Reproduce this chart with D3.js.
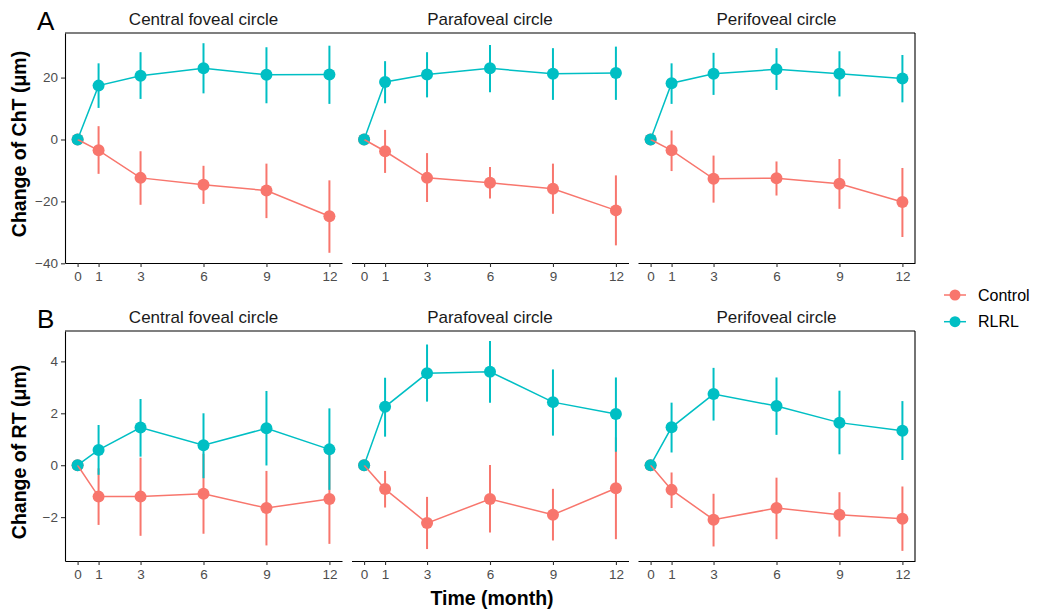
<!DOCTYPE html>
<html>
<head>
<meta charset="utf-8">
<script src="https://cdn.jsdelivr.net/npm/d3@7"></script>
<style>
  body { margin: 0; background: #fff; }
  svg { display: block; font-family: "Liberation Sans", Arial, Helvetica, sans-serif; }
</style>
</head>
<body>
<svg id="chart" width="1039" height="612"></svg>
<script>
// ---------- data ----------
const months = [0, 1, 3, 6, 9, 12];
const monthTicks = [0, 1, 3, 6, 9, 12];
const regions = ["Central foveal circle", "Parafoveal circle", "Perifoveal circle"];
const groups = ["Control", "RLRL"];
const groupColors = ["#F8766D", "#00BFC4"];

const chtTicks = [-40, -20, 0, 20];
const rtTicks = [-2, 0, 2, 4];
const chtDomain = [-39.9, 34.4];
const rtDomain = [-3.69, 5.17];

// ChT – Central foveal
const chtCentralControl   = [0, -3.5, -12.4, -14.6, -16.5, -24.8];
const chtCentralControlLo = [0, -11.1, -21.1, -20.8, -25.4, -36.6];
const chtCentralControlHi = [0, 4.3, -3.8, -8.5, -7.8, -13.2];
const chtCentralRlrl      = [0, 17.4, 20.6, 23.0, 20.9, 21.0];
const chtCentralRlrlLo    = [0, 10.2, 13.1, 14.9, 11.7, 11.5];
const chtCentralRlrlHi    = [0, 24.6, 28.2, 31.1, 29.8, 30.3];
// ChT – Parafoveal
const chtParaControl   = [0, -3.8, -12.4, -14.0, -15.9, -22.9];
const chtParaControlLo = [0, -10.8, -20.2, -19.1, -24.0, -34.2];
const chtParaControlHi = [0, 3.1, -4.4, -8.9, -7.8, -11.6];
const chtParaRlrl      = [0, 18.6, 21.0, 23.0, 21.2, 21.5];
const chtParaRlrlLo    = [0, 11.7, 13.6, 15.3, 12.8, 12.8];
const chtParaRlrlHi    = [0, 25.3, 28.2, 30.5, 29.5, 30.0];
// ChT – Perifoveal
const chtPeriControl   = [0, -3.5, -12.7, -12.5, -14.3, -20.2];
const chtPeriControlLo = [0, -10.2, -20.4, -18.1, -22.4, -31.5];
const chtPeriControlHi = [0, 2.9, -5.2, -7.1, -6.3, -9.2];
const chtPeriRlrl      = [0, 18.2, 21.2, 22.7, 21.2, 19.7];
const chtPeriRlrlLo    = [0, 11.5, 14.4, 16.0, 13.9, 12.0];
const chtPeriRlrlHi    = [0, 24.6, 28.0, 29.5, 28.5, 27.3];

// RT – Central foveal
const rtCentralControl   = [0, -1.21, -1.21, -1.10, -1.65, -1.30];
const rtCentralControlLo = [0, -2.30, -2.72, -2.64, -3.09, -3.03];
const rtCentralControlHi = [0, -0.12, 0.29, 0.44, -0.22, 0.43];
const rtCentralRlrl      = [0, 0.59, 1.45, 0.77, 1.42, 0.61];
const rtCentralRlrlLo    = [0, -0.37, 0.33, -0.50, -0.01, -0.95];
const rtCentralRlrlHi    = [0, 1.55, 2.55, 2.00, 2.86, 2.19];
// RT – Parafoveal
const rtParaControl   = [0, -0.92, -2.23, -1.30, -1.91, -0.89];
const rtParaControlLo = [0, -1.63, -3.23, -2.59, -2.90, -2.85];
const rtParaControlHi = [0, -0.22, -1.22, 0.01, -0.91, 1.07];
const rtParaRlrl      = [0, 2.25, 3.54, 3.60, 2.43, 1.97];
const rtParaRlrlLo    = [0, 1.10, 2.45, 2.41, 1.14, 0.52];
const rtParaRlrlHi    = [0, 3.37, 4.65, 4.78, 3.69, 3.38];
// RT – Perifoveal
const rtPeriControl   = [0, -0.95, -2.10, -1.65, -1.91, -2.06];
const rtPeriControlLo = [0, -1.65, -3.13, -2.85, -2.75, -3.30];
const rtPeriControlHi = [0, -0.28, -1.10, -0.48, -1.04, -0.82];
const rtPeriRlrl      = [0, 1.46, 2.74, 2.28, 1.64, 1.33];
const rtPeriRlrlLo    = [0, 0.49, 1.72, 1.17, 0.42, 0.20];
const rtPeriRlrlHi    = [0, 2.41, 3.75, 3.38, 2.87, 2.47];

// ---------- assemble ----------
function series(mean, lo, hi) {
  return months.map((m, i) => ({ month: m, mean: mean[i], lo: lo[i], hi: hi[i] }));
}
const rows = [
  {
    tag: "A", title: "Change of ChT (\u03bcm)", ticks: chtTicks, domain: chtDomain,
    top: 33, bottom: 263, tagY: 29.5, titleY: 25, yTitleY: 144,
    panels: [
      [series(chtCentralControl, chtCentralControlLo, chtCentralControlHi), series(chtCentralRlrl, chtCentralRlrlLo, chtCentralRlrlHi)],
      [series(chtParaControl, chtParaControlLo, chtParaControlHi), series(chtParaRlrl, chtParaRlrlLo, chtParaRlrlHi)],
      [series(chtPeriControl, chtPeriControlLo, chtPeriControlHi), series(chtPeriRlrl, chtPeriRlrlLo, chtPeriRlrlHi)]
    ]
  },
  {
    tag: "B", title: "Change of RT (\u03bcm)", ticks: rtTicks, domain: rtDomain,
    top: 331, bottom: 561, tagY: 328, titleY: 323, yTitleY: 452,
    panels: [
      [series(rtCentralControl, rtCentralControlLo, rtCentralControlHi), series(rtCentralRlrl, rtCentralRlrlLo, rtCentralRlrlHi)],
      [series(rtParaControl, rtParaControlLo, rtParaControlHi), series(rtParaRlrl, rtParaRlrlLo, rtParaRlrlHi)],
      [series(rtPeriControl, rtPeriControlLo, rtPeriControlHi), series(rtPeriRlrl, rtPeriRlrlLo, rtPeriRlrlHi)]
    ]
  }
];

// ---------- layout ----------
const svg = d3.select("#chart");
const L = 65, R = 915, gap = 9.5;
const pw = (R - L - 2 * gap) / 3;
const xDomain = [-0.6, 12.6];
const ptR = 6;

rows.forEach(row => {
  const y = d3.scaleLinear().domain(row.domain).range([row.bottom, row.top]);

  // tag letter
  svg.append("text").attr("x", 37).attr("y", row.tagY)
    .attr("font-size", 26).attr("fill", "#000").text(row.tag);

  // y-axis title
  svg.append("text")
    .attr("transform", `translate(19,${row.yTitleY}) rotate(-90)`)
    .attr("text-anchor", "middle").attr("dy", "0.35em")
    .attr("font-size", 19.5).attr("font-weight", "bold").attr("fill", "#000")
    .text(row.title);

  // y axis (first panel only)
  const yAx = svg.append("g").attr("transform", `translate(${L},0)`)
    .call(d3.axisLeft(y).tickValues(row.ticks).tickSize(4).tickSizeOuter(0).tickPadding(3).tickFormat(d3.format("d")));
  yAx.select(".domain").attr("stroke", "#000").attr("stroke-width", 1.1);
  yAx.selectAll(".tick line").attr("stroke", "#333").attr("stroke-width", 1.1);
  yAx.selectAll(".tick text").attr("font-size", 13.5).attr("fill", "#4D4D4D")
    .attr("font-family", "'Liberation Sans', Arial, sans-serif");

  // continuous top line and right border
  svg.append("line").attr("x1", L).attr("x2", R).attr("y1", row.top).attr("y2", row.top)
    .attr("stroke", "#000").attr("stroke-width", 1.1);
  svg.append("line").attr("x1", R).attr("x2", R).attr("y1", row.top).attr("y2", row.bottom)
    .attr("stroke", "#000").attr("stroke-width", 1.1);

  row.panels.forEach((panel, pi) => {
    const x0 = L + pi * (pw + gap);
    const x = d3.scaleLinear().domain(xDomain).range([x0, x0 + pw]);

    // panel title
    svg.append("text").attr("x", x0 + pw / 2).attr("y", row.titleY)
      .attr("text-anchor", "middle").attr("font-size", 17).attr("fill", "#1A1A1A")
      .text(regions[pi]);

    // x axis
    const xAx = svg.append("g").attr("transform", `translate(0,${row.bottom})`)
      .call(d3.axisBottom(x).tickValues(monthTicks).tickSize(4).tickSizeOuter(0).tickPadding(4));
    xAx.select(".domain").attr("stroke", "#000").attr("stroke-width", 1.1);
    xAx.selectAll(".tick line").attr("stroke", "#333").attr("stroke-width", 1.1);
    xAx.selectAll(".tick text").attr("font-size", 13.5).attr("fill", "#4D4D4D")
      .attr("font-family", "'Liberation Sans', Arial, sans-serif");

    const g = svg.append("g");
    // error bars
    panel.forEach((s, gi) => {
      g.selectAll(null).data(s.filter(d => d.hi !== d.lo)).enter().append("line")
        .attr("x1", d => x(d.month)).attr("x2", d => x(d.month))
        .attr("y1", d => y(d.lo)).attr("y2", d => y(d.hi))
        .attr("stroke", groupColors[gi]).attr("stroke-width", 2);
    });
    // points
    panel.forEach((s, gi) => {
      g.selectAll(null).data(s).enter().append("circle")
        .attr("cx", d => x(d.month)).attr("cy", d => y(d.mean)).attr("r", ptR)
        .attr("fill", groupColors[gi]);
    });
    // lines
    const line = d3.line().x(d => x(d.month)).y(d => y(d.mean));
    panel.forEach((s, gi) => {
      g.append("path").datum(s).attr("d", line).attr("fill", "none")
        .attr("stroke", groupColors[gi]).attr("stroke-width", 1.5);
    });
  });
});

// x-axis title
svg.append("text").attr("x", 492).attr("y", 605).attr("text-anchor", "middle")
  .attr("font-size", 19.5).attr("font-weight", "bold").attr("fill", "#000")
  .text("Time (month)");

// legend
const legY = d3.scalePoint().domain(groups).range([295, 321.7]);
groups.forEach((name, gi) => {
  const ly = legY(name);
  svg.append("line").attr("x1", 944).attr("x2", 966).attr("y1", ly).attr("y2", ly)
    .attr("stroke", groupColors[gi]).attr("stroke-width", 1.5);
  svg.append("circle").attr("cx", 955).attr("cy", ly).attr("r", 5.5).attr("fill", groupColors[gi]);
  svg.append("text").attr("x", 978).attr("y", ly).attr("dy", "0.35em")
    .attr("font-size", 16).attr("fill", "#000").text(name);
});
</script>
</body>
</html>
